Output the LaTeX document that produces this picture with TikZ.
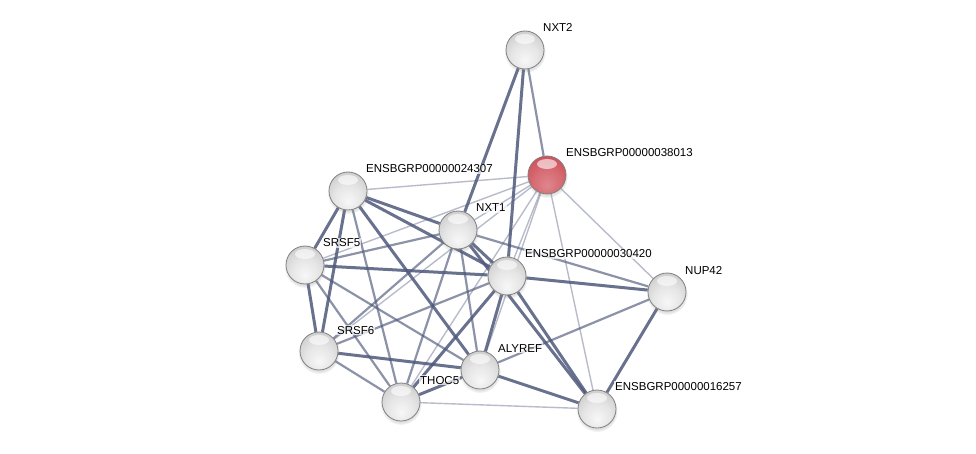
\documentclass[tikz,border=0pt]{standalone}
\usepackage{fontspec}
\setmainfont{Liberation Sans}
\usetikzlibrary{shadows}
\pgfdeclarelayer{background}
\pgfsetlayers{background,main}
\definecolor{edgec}{RGB}{78,88,122}
\definecolor{redball}{RGB}{205,70,80}
\pgfdeclareradialshading{greyball}{\pgfpoint{0bp}{-14bp}}{color(0bp)=(white!97!black); color(18bp)=(white!90!black); color(34bp)=(white!80!black); color(46bp)=(white!70!black); color(54bp)=(white!55!black); color(70bp)=(white!50!black)}
\pgfdeclareradialshading{redshade}{\pgfpoint{0bp}{-14bp}}{color(0bp)=(redball!65!white); color(18bp)=(redball!80!white); color(34bp)=(redball!95!white); color(46bp)=(redball); color(54bp)=(redball!80!black); color(70bp)=(redball!70!black)}
\tikzset{
  x=1pt, y=-1pt,
  ball/.style={circle, minimum size=38pt, inner sep=0pt, shading=greyball,
    draw=black!50, line width=0.8pt, circular drop shadow={shadow xshift=0pt, shadow yshift=-2pt, opacity=0.25},
    path picture={\fill[white, opacity=0.6] ([yshift=11pt]path picture bounding box.center) ellipse (10pt and 5pt);}},
  redb/.style={ball, shading=redshade},
  lab/.style={anchor=base west, inner sep=1pt, fill=white, fill opacity=0.7, text opacity=1, font=\fontsize{11.5}{13}\selectfont},
  thick3/.style={draw=edgec, line width=3pt, opacity=0.85},
  med2/.style={draw=edgec, line width=2.2pt, opacity=0.65},
  thin1/.style={draw=edgec, line width=1.4pt, opacity=0.4},
}
\begin{document}
\begin{tikzpicture}
\useasboundingbox (0,0) rectangle (976,454);
% nodes
\node[ball] (nxt2) at (525,50) {};
\node[redb] (e38013) at (547,175) {};
\node[ball] (e24307) at (348,191) {};
\node[ball] (nxt1) at (458,230) {};
\node[ball] (srsf5) at (305,265) {};
\node[ball] (e30420) at (507,276) {};
\node[ball] (nup42) at (667,292) {};
\node[ball] (srsf6) at (319,351) {};
\node[ball] (alyref) at (480,370) {};
\node[ball] (thoc5) at (401,402) {};
\node[ball] (e16257) at (597,409) {};
% labels
\node[lab] (lnxt2) at (542,32) {NXT2};
\node[lab] (l38013) at (565,157) {ENSBGRP00000038013};
\node[lab] (l24307) at (365,173) {ENSBGRP00000024307};
\node[lab] (lnxt1) at (475,212) {NXT1};
\node[lab] (lsrsf5) at (322,247) {SRSF5};
\node[lab] (l30420) at (524,258) {ENSBGRP00000030420};
\node[lab] (lnup42) at (684,274) {NUP42};
\node[lab] (lsrsf6) at (336,334) {SRSF6};
\node[lab] (lalyref) at (497,352) {ALYREF};
\node[lab] (lthoc5) at (419,384) {THOC5};
\node[lab] (l16257) at (614,390) {ENSBGRP00000016257};
% edges
\begin{pgfonlayer}{background}
\foreach \a/\b in {e38013/e24307, e38013/nxt1, e38013/srsf5, e38013/e30420, e38013/nup42, e38013/e16257, e38013/thoc5, e38013/alyref, e38013/srsf6, thoc5/e16257}
  \draw[thin1] (\a) -- (\b);
\foreach \a/\b in {nxt1/nup42, nxt1/alyref, nxt1/thoc5, srsf5/thoc5, srsf5/alyref, srsf6/thoc5, e24307/thoc5, nxt2/e38013, srsf6/e30420, nxt1/srsf5, nxt1/srsf6, alyref/nup42}
  \draw[med2] (\a) -- (\b);
\foreach \a/\b in {nxt2/nxt1, nxt2/e30420, e24307/nxt1, e24307/e30420, e24307/alyref, e24307/srsf5, e24307/srsf6, srsf5/srsf6, srsf5/e30420, nxt1/e30420, nxt1/e16257, e30420/e16257, e30420/nup42, nup42/e16257, e30420/alyref, e30420/thoc5, srsf6/alyref, thoc5/alyref, alyref/e16257}
  \draw[thick3] (\a) -- (\b);
\end{pgfonlayer}
\end{tikzpicture}
\end{document}
